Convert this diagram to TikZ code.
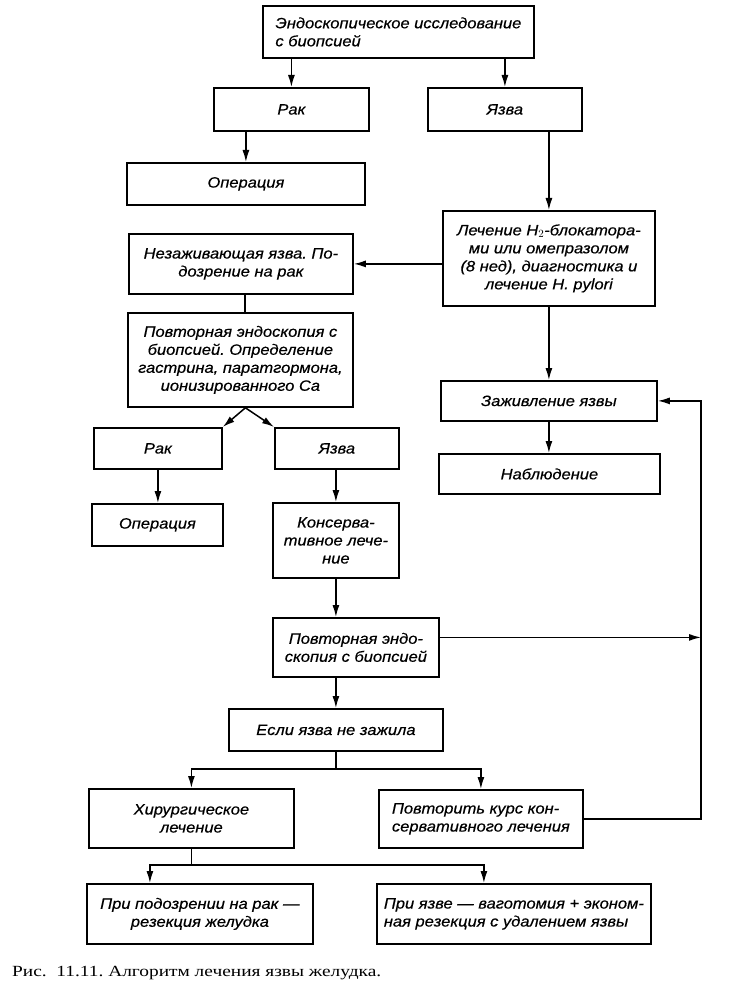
\documentclass[tikz,border=0pt]{standalone}
\usepackage{fontspec}
\setmainfont{Liberation Sans}
\newfontfamily\boxfont{Liberation Sans}[FakeStretch=1.1, FakeBold=0.5]
\newfontfamily\capfont{Liberation Serif}[FakeStretch=1.25]
\usetikzlibrary{arrows.meta}
\frenchspacing
\begin{document}
\begin{tikzpicture}[x=1pt,y=-1pt,
  box/.style={draw, line width=1.8pt, anchor=north west, inner sep=0pt,
    font=\boxfont\fontsize{15}{18}\selectfont\itshape, align=center},
  arr/.style={line width=1.5pt, -{Latex[length=12pt,width=7pt]}},
  ln/.style={line width=1.5pt}]
\useasboundingbox (0,0) rectangle (730,1000);
% boxes
\node[box, align=left, minimum width=271pt, minimum height=52pt] (top) at (262,5) {Эндоскопическое исследование\\с биопсией};
\node[box, minimum width=155pt, minimum height=43pt] (rak) at (213,87) {Рак};
\node[box, minimum width=154pt, minimum height=43pt] (yazva) at (427,87) {Язва};
\node[box, minimum width=238pt, minimum height=42pt] (oper) at (126,162) {Операция};
\node[box, minimum width=212pt, minimum height=95pt] (lech) at (442,210) {Лечение H$_2$-блокатора-\\ми или омепразолом\\(8 нед), диагностика и\\лечение H. pylori};
\node[box, minimum width=224pt, minimum height=60pt] (nezazh) at (128,233) {Незаживающая язва. По-\\дозрение на рак};
\node[box, minimum width=225pt, minimum height=94pt] (povt) at (127,312) {Повторная эндоскопия с\\биопсией. Определение\\гастрина, паратгормона,\\ионизированного Ca};
\node[box, minimum width=216pt, minimum height=40pt] (zazh) at (440,380) {Заживление язвы};
\node[box, minimum width=221pt, minimum height=40pt] (nabl) at (438,453) {Наблюдение};
\node[box, minimum width=128pt, minimum height=41pt] (rak2) at (93,427) {Рак};
\node[box, minimum width=124pt, minimum height=41pt] (yazva2) at (274,427) {Язва};
\node[box, minimum width=131pt, minimum height=42pt] (oper2) at (91,503) {Операция};
\node[box, minimum width=126pt, minimum height=75pt] (kons) at (272,502) {Консерва-\\тивное лече-\\ние};
\node[box, minimum width=166pt, minimum height=59pt] (povt2) at (272,617) {Повторная эндо-\\скопия с биопсией};
\node[box, minimum width=214pt, minimum height=42pt] (esli) at (228,708) {Если язва не зажила};
\node[box, minimum width=205pt, minimum height=59pt] (hir) at (88,788) {Хирургическое\\лечение};
\node[box, align=left, minimum width=204pt, minimum height=58pt] (povtor) at (378,789) {Повторить курс кон-\\сервативного лечения};
\node[box, minimum width=226pt, minimum height=60pt] (pripod) at (86,883) {При подозрении на рак —\\резекция желудка};
\node[box, align=left, minimum width=274pt, minimum height=60pt] (priyaz) at (376,883) {При язве — ваготомия + эконом-\\ная резекция с удалением язвы};
\node[anchor=base west, inner sep=0pt, font=\capfont\fontsize{15.5}{18}\selectfont] (cap) at (12,976) {Рис.\ \ 11.11. Алгоритм лечения язвы желудка.};
\coordinate (lx) at (701,0);
% connectors
\draw[arr] (rak.north |- top.south) -- (rak.north);
\draw[arr] (yazva.north |- top.south) -- (yazva.north);
\draw[arr] (oper.north |- rak.south) -- (oper.north);
\draw[arr] (lech.north |- yazva.south) -- (lech.north);
\draw[arr] (lech.west |- nezazh.east) -- (nezazh.east);
\draw[ln] ([xshift=4pt]nezazh.south) -- ([xshift=4pt]nezazh.south |- povt.north);
\draw[arr] ([xshift=5pt]povt.south) -- (rak2.north east);
\draw[arr] ([xshift=5pt]povt.south) -- (yazva2.north west);
\draw[arr] (lech.south) -- (lech.south |- zazh.north);
\draw[arr] (zazh.south) -- (zazh.south |- nabl.north);
\draw[arr] (rak2.south) -- (rak2.south |- oper2.north);
\draw[arr] (kons.north |- yazva2.south) -- (kons.north);
\draw[arr] (kons.south) -- (kons.south |- povt2.north);
\draw[arr] (esli.north |- povt2.south) -- (esli.north);
\draw[ln] (esli.south) -- ++(0,17) coordinate (s1);
\draw[arr] (s1) -| (hir.north);
\draw[arr] (s1) -| (povtor.north);
\draw[ln] (hir.south) -- ++(0,16) coordinate (s2);
\draw[arr] (s2) -| ([xshift=-50pt]pripod.north);
\draw[arr] (s2) -| ([xshift=-30pt]priyaz.north);
\draw[arr] ([yshift=10pt]povt2.east) -- ([yshift=10pt]povt2.east -| lx);
\draw[arr] (povtor.east) -- (povtor.east -| lx) |- (zazh.east);
\end{tikzpicture}
\end{document}
